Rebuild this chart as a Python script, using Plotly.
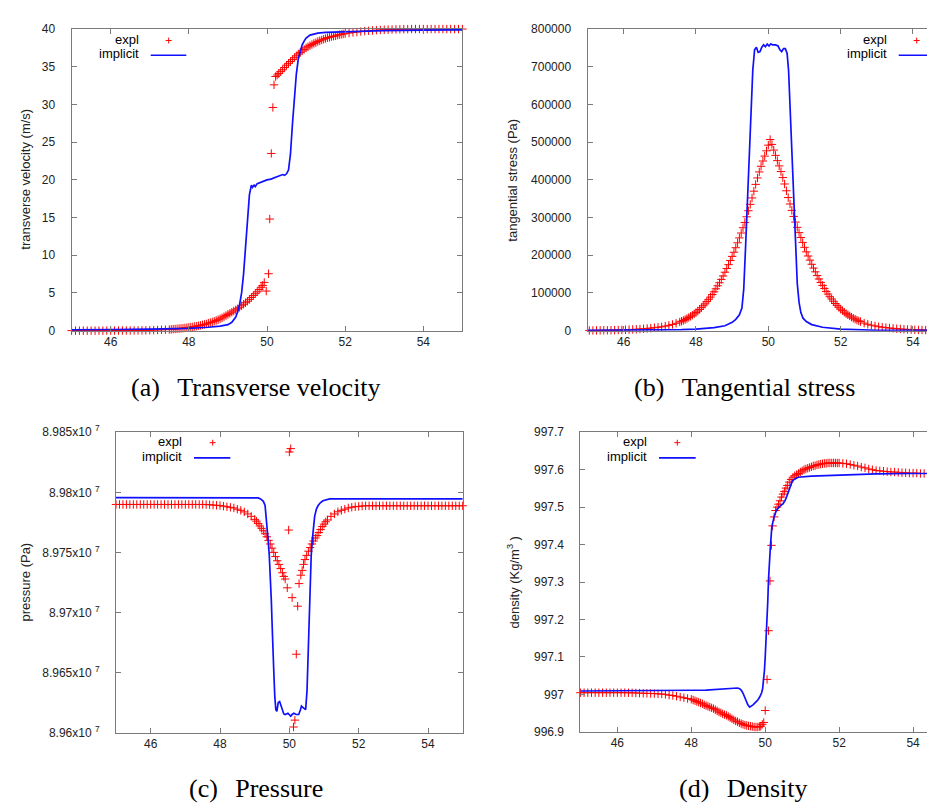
import plotly.graph_objects as go

# ---------------- data ----------------
# (a) transverse velocity (m/s)
x_a_expl = [45.0, 45.1, 45.2, 45.3, 45.4, 45.5, 45.6, 45.7, 45.8, 45.9, 46.0, 46.1, 46.2, 46.3, 46.4, 46.5, 46.6, 46.7, 46.8, 46.9,
            47.0, 47.1, 47.2, 47.3, 47.4,
            47.5, 47.55, 47.6, 47.65, 47.7, 47.75, 47.8, 47.85, 47.9, 47.95, 48.0,
            48.05, 48.1, 48.15, 48.2, 48.25, 48.3, 48.35, 48.4, 48.45, 48.5,
            48.55, 48.6, 48.65, 48.7, 48.75, 48.8, 48.85, 48.9, 48.95, 49.0,
            49.05, 49.1, 49.15, 49.2, 49.25, 49.3, 49.35, 49.4, 49.45, 49.5,
            49.55, 49.6, 49.65, 49.7, 49.75, 49.8, 49.85,
            49.89, 49.93, 49.98, 50.04, 50.07, 50.11, 50.15, 50.18, 50.22,
            50.26, 50.3, 50.35, 50.4, 50.45, 50.5, 50.55, 50.6, 50.65, 50.7, 50.75, 50.8, 50.85, 50.9, 50.95, 51.0,
            51.05, 51.1, 51.15, 51.2, 51.25, 51.3, 51.35, 51.4, 51.45, 51.5, 51.55, 51.6, 51.65, 51.7, 51.75, 51.8, 51.85, 51.9, 51.95, 52.0,
            52.1, 52.2, 52.3, 52.4, 52.5, 52.6, 52.7, 52.8, 52.9, 53.0,
            53.1, 53.2, 53.3, 53.4, 53.5, 53.6, 53.7, 53.8, 53.9, 54.0,
            54.1, 54.2, 54.3, 54.4, 54.5, 54.6, 54.7, 54.8, 54.9, 55.0]
v_a_expl = [0.0, 0.0, 0.0, 0.0, 0.0, 0.0, 0.0, 0.0, 0.0, 0.01, 0.01,
            0.01, 0.01, 0.02, 0.02, 0.02, 0.03, 0.03, 0.04, 0.04,
            0.05, 0.07, 0.09, 0.11, 0.13,
            0.15, 0.17, 0.2, 0.22, 0.25, 0.28, 0.3, 0.33, 0.36, 0.4, 0.43,
            0.47, 0.5, 0.55, 0.6, 0.65, 0.7, 0.77, 0.83, 0.9, 1.0,
            1.07, 1.15, 1.25, 1.35, 1.45, 1.57, 1.7, 1.85, 2.0, 2.15,
            2.3, 2.45, 2.6, 2.75, 2.9, 3.1, 3.3, 3.5, 3.7, 3.9,
            4.15, 4.4, 4.65, 4.9, 5.15, 5.45, 5.75,
            6.0, 6.4, 5.25, 7.55, 14.8, 23.5, 29.6, 32.6, 33.7,
            33.9, 34.1, 34.35, 34.6, 34.9, 35.2, 35.45, 35.7, 35.95, 36.2, 36.45, 36.7, 36.9, 37.1, 37.3, 37.5,
            37.65, 37.8, 37.95, 38.1, 38.2, 38.35, 38.45, 38.55, 38.65, 38.75, 38.85, 38.9, 39.0, 39.05, 39.1, 39.2, 39.25, 39.3, 39.35, 39.4,
            39.47, 39.55, 39.6, 39.67, 39.72, 39.77, 39.81, 39.85, 39.88, 39.9,
            39.92, 39.94, 39.96, 39.97, 39.98, 39.99, 40.0, 40.0, 40.0, 40.0,
            40.0, 40.0, 40.0, 40.0, 40.0, 40.0, 40.0, 40.0, 40.0, 40.0]
x_a_impl = [45.0, 45.5, 46.0, 47.0, 48.0, 48.5, 48.8, 49.0, 49.1, 49.2, 49.25, 49.3, 49.35, 49.4, 49.45, 49.5,
            49.55, 49.6, 49.63, 49.67, 49.7, 49.75, 49.8, 49.85, 49.9, 50.0, 50.1, 50.2, 50.3, 50.4, 50.45,
            50.5, 50.55, 50.6, 50.65, 50.7, 50.75, 50.8, 50.85, 50.9, 50.95, 51.0, 51.1, 51.2, 51.3, 51.5,
            52.0, 53.0, 54.0, 55.0]
v_a_impl = [0.1, 0.15, 0.15, 0.2, 0.3, 0.45, 0.6, 0.8, 1.1, 1.8, 2.5, 3.5, 5.0, 7.5, 11.5, 15.2,
            18.0, 19.3, 19.0, 19.3, 19.1, 19.5, 19.6, 19.8, 19.9, 20.0, 20.1, 20.3, 20.4, 20.7, 20.6,
            20.8, 21.3, 23.4, 27.3, 30.8, 34.0, 36.0, 37.1, 37.9, 38.4, 38.8, 39.2, 39.35, 39.45, 39.55,
            39.65, 39.8, 39.85, 39.9]

# (b) tangential stress (Pa)
x_b_expl = [45.05, 45.15, 45.25, 45.35, 45.45, 45.55, 45.65, 45.75, 45.85, 45.95,
            46.05, 46.15, 46.25, 46.35, 46.45, 46.55, 46.65, 46.75, 46.85, 46.95,
            47.05, 47.15, 47.25, 47.35, 47.45,
            47.55, 47.6, 47.65, 47.7, 47.75, 47.8, 47.85, 47.9, 47.95, 48.0,
            48.05, 48.1, 48.15, 48.2, 48.25, 48.3, 48.35, 48.4, 48.45, 48.5,
            48.55, 48.6, 48.65, 48.7, 48.75, 48.8, 48.85, 48.9, 48.95, 49.0,
            49.05, 49.1, 49.15, 49.2, 49.25, 49.3, 49.35, 49.4, 49.45, 49.5,
            49.55, 49.6, 49.65, 49.7, 49.75, 49.8, 49.85, 49.9, 49.95, 50.0, 50.05,
            50.1, 50.15, 50.2, 50.25, 50.3, 50.35, 50.4, 50.45, 50.5,
            50.55, 50.6, 50.65, 50.7, 50.75, 50.8, 50.85, 50.9, 50.95, 51.0,
            51.05, 51.1, 51.15, 51.2, 51.25, 51.3, 51.35, 51.4, 51.45, 51.5,
            51.55, 51.6, 51.65, 51.7, 51.75, 51.8, 51.85, 51.9, 51.95, 52.0,
            52.05, 52.1, 52.15, 52.2, 52.25, 52.3, 52.35, 52.4, 52.45, 52.5, 52.55,
            52.65, 52.75, 52.85, 52.95, 53.05, 53.15, 53.25, 53.35, 53.45, 53.55,
            53.65, 53.75, 53.85, 53.95, 54.05, 54.15, 54.25, 54.35, 54.45, 54.55,
            54.65, 54.75, 54.85, 54.95]
s_b_expl = [500, 600, 700, 800, 900, 1000, 1200, 1400, 1700, 2000,
            2300, 2700, 3200, 3700, 4300, 5000, 5900, 6800, 7900, 9000,
            10200, 12000, 14000, 16500, 19500,
            23000, 25000, 27000, 29500, 32000, 35000, 38000, 41000, 44500, 48000,
            52000, 56000, 61000, 66000, 71000, 77000, 83000, 89000, 96000, 103000,
            111000, 119000, 127000, 136000, 145000, 155000, 165000, 175000, 186000, 197000,
            208000, 220000, 233000, 246000, 259000, 273000, 287000, 302000, 318000, 335000,
            352000, 370000, 388000, 405000, 421000, 436000, 450000, 463000, 477000, 492000, 507000,
            494000, 479000, 465000, 451000, 437000, 422000, 406000, 389000, 371000,
            353000, 336000, 319000, 303000, 288000, 274000, 260000, 247000, 234000, 221000,
            209000, 198000, 187000, 176000, 166000, 156000, 146000, 137000, 128000, 120000,
            112000, 104000, 97000, 90000, 84000, 78000, 72000, 67000, 62000, 57000,
            53000, 49000, 45000, 42000, 39000, 36000, 33000, 30500, 28000, 26000, 24000,
            20000, 17000, 14500, 12500, 10500, 9200, 8000, 7000, 6000, 5200,
            4400, 3800, 3300, 2800, 2400, 2000, 1700, 1500, 1300, 1100,
            900, 800, 700, 600]
x_b_impl = [45.0, 46.0, 47.0, 47.6, 48.0, 48.5, 48.8, 49.0, 49.1, 49.2, 49.27, 49.32, 49.37, 49.42, 49.47,
            49.52, 49.57, 49.62, 49.67, 49.72, 49.77, 49.82, 49.87, 49.92, 49.97, 50.02, 50.07, 50.12,
            50.2, 50.27, 50.32, 50.37, 50.42, 50.47, 50.52, 50.56, 50.6, 50.64, 50.68, 50.72, 50.76,
            50.8, 50.85, 50.9, 50.96, 51.05, 51.2, 51.5, 52.0, 52.5, 53.0, 54.0, 55.0]
s_b_impl = [500, 800, 1500, 2500, 4000, 8000, 13000, 22000, 30000, 42000, 60000, 110000, 220000, 330000, 460000,
            590000, 690000, 745000, 752000, 738000, 740000, 752000, 758000, 753000, 760000, 755000, 761000, 758000,
            758000, 755000, 745000, 740000, 748000, 748000, 735000, 690000, 600000, 480000, 380000, 290000, 200000,
            125000, 75000, 48000, 33000, 24000, 16000, 9000, 4000, 2000, 1000, 600, 400]

# (c) pressure (Pa)
x_c_expl = [45.0, 45.1, 45.2, 45.3, 45.4, 45.5, 45.6, 45.7, 45.8, 45.9, 46.0, 46.1, 46.2, 46.3, 46.4, 46.5,
            46.6, 46.7, 46.8, 46.9, 47.0, 47.1, 47.2, 47.3, 47.4, 47.5, 47.6,
            47.7, 47.8, 47.9, 48.0, 48.1, 48.2, 48.3, 48.4, 48.5, 48.6, 48.7, 48.8, 48.9, 49.0,
            49.05, 49.1, 49.15, 49.2, 49.25, 49.3, 49.35, 49.4, 49.45, 49.5, 49.55, 49.6, 49.65, 49.7,
            49.75, 49.8, 49.84, 49.88, 49.94, 49.98, 50.0, 50.04, 50.08, 50.12, 50.16, 50.2, 50.24, 50.28,
            50.33, 50.37, 50.41, 50.45, 50.5, 50.55, 50.6, 50.65, 50.7, 50.75, 50.8, 50.85, 50.9, 50.95,
            51.0, 51.05, 51.1, 51.2, 51.3, 51.4, 51.5, 51.6, 51.7, 51.8, 51.9, 52.0, 52.1, 52.2,
            52.3, 52.4, 52.5, 52.6, 52.7, 52.8, 52.9, 53.0, 53.1, 53.2, 53.3, 53.4, 53.5, 53.6,
            53.7, 53.8, 53.9, 54.0, 54.1, 54.2, 54.3, 54.4, 54.5, 54.6, 54.7, 54.8, 54.9, 55.0]
p_c_expl = [89789900, 89789900, 89789900, 89789900, 89789900, 89789900, 89789900, 89789900, 89789900,
            89789900, 89789900, 89789900, 89789900, 89789900, 89789900, 89789900, 89789900, 89789900,
            89789900, 89789900, 89789900, 89789900, 89789900, 89789900, 89789900, 89789900, 89789800,
            89789700, 89789400, 89789200, 89789000, 89788500, 89788000, 89787500, 89787000, 89786000,
            89785000, 89783700, 89782000, 89780000, 89777500,
            89776000, 89774000, 89772000, 89770000, 89768000, 89765500, 89763000, 89760000, 89757000,
            89753500, 89750000, 89746500, 89743000, 89740000,
            89736500, 89733000, 89730000, 89727800, 89720500, 89768600, 89833600, 89836400, 89712300,
            89604600, 89610300, 89665200, 89705200, 89724000,
            89731000, 89735000, 89740000, 89744000, 89747500, 89751000, 89754000, 89757000, 89759500,
            89762000, 89764000, 89766500, 89769000, 89771500,
            89773500, 89775500, 89777000, 89780000, 89782000, 89783800, 89785000, 89786000, 89787000,
            89787600, 89788000, 89788300, 89788600, 89788800,
            89788800, 89788800, 89788800, 89788800, 89788800, 89788800, 89788800, 89788800, 89788800,
            89788800, 89788800, 89788800, 89788800, 89788800,
            89788800, 89788800, 89788800, 89788800, 89788800, 89788800, 89788800, 89788800, 89788800,
            89788800, 89788800, 89788800, 89788800, 89788800]
x_c_impl = [45.0, 47.0, 48.5, 49.0, 49.1, 49.17, 49.25, 49.3, 49.34, 49.38, 49.42, 49.45, 49.48, 49.5,
            49.53, 49.55, 49.58, 49.61, 49.64, 49.68, 49.72, 49.76, 49.8, 49.84, 49.88, 49.92, 49.96,
            50.0, 50.04, 50.08, 50.13, 50.2, 50.27, 50.32, 50.35, 50.39, 50.43, 50.47, 50.51, 50.54,
            50.57, 50.59, 50.61, 50.63, 50.66, 50.68, 50.73, 50.78, 50.83, 50.9, 50.97, 51.16, 52.0, 55.0]
p_c_impl = [89795600, 89795600, 89795500, 89795500, 89795400, 89794500, 89792500, 89789000, 89778000,
            89763000, 89748000, 89733000, 89710000, 89692500, 89675000, 89651600, 89630000, 89619000,
            89617600, 89625000, 89625800, 89622000, 89619000, 89615500, 89614900, 89615500, 89616000,
            89614800, 89613600, 89615000, 89616000, 89615000, 89615000, 89619000, 89622000, 89621000,
            89619500, 89619000, 89635000, 89665000, 89688000, 89706000, 89727000, 89747000, 89760000,
            89766000, 89780000, 89786000, 89789000, 89791500, 89793000, 89794500, 89794500, 89794500]

# (d) density (Kg/m^3)
x_d_expl = [45.0, 45.1, 45.2, 45.3, 45.4, 45.5, 45.6, 45.7, 45.8, 45.9, 46.0, 46.1, 46.2, 46.3, 46.4, 46.5, 46.6,
            46.7, 46.8, 46.9, 47.0, 47.1, 47.2, 47.3, 47.4, 47.5, 47.6, 47.7, 47.8, 47.9,
            48.0, 48.05, 48.1, 48.15, 48.2, 48.25, 48.3, 48.35, 48.4, 48.45, 48.5, 48.55, 48.6, 48.65,
            48.7, 48.75, 48.8, 48.85, 48.9, 48.95, 49.0, 49.05, 49.1, 49.15, 49.2, 49.25, 49.3, 49.35,
            49.4, 49.45, 49.5, 49.55, 49.6, 49.65, 49.7, 49.75, 49.8, 49.85,
            49.88, 49.92, 49.96, 50.0, 50.05, 50.09, 50.13, 50.17, 50.2, 50.24, 50.28, 50.32, 50.36,
            50.4, 50.44, 50.48, 50.52, 50.56, 50.6, 50.65, 50.7, 50.75, 50.8, 50.85, 50.9, 50.95,
            51.0, 51.05, 51.1, 51.15, 51.2, 51.25, 51.3, 51.35, 51.4, 51.45, 51.5, 51.55, 51.6, 51.65,
            51.7, 51.75, 51.8, 51.85, 51.9, 51.95, 52.0,
            52.1, 52.2, 52.3, 52.4, 52.5, 52.6, 52.7, 52.8, 52.9, 53.0,
            53.1, 53.2, 53.3, 53.4, 53.5, 53.6, 53.7, 53.8, 53.9, 54.0,
            54.1, 54.2, 54.3, 54.4, 54.5, 54.6, 54.7, 54.8, 54.9, 55.0]
r_d_expl = [997.0045, 997.0045, 997.0045, 997.0045, 997.0045, 997.0045, 997.0045, 997.0045, 997.0045,
            997.0045, 997.0045, 997.0045, 997.0045, 997.0043, 997.0041, 997.0038, 997.0034,
            997.003, 997.0027, 997.0024, 997.002, 997.0015, 997.001, 997.0, 996.998, 996.997, 996.995,
            996.993, 996.991, 996.989,
            996.987, 996.985, 996.983, 996.981, 996.979, 996.977, 996.975, 996.972, 996.97, 996.968,
            996.966, 996.964, 996.962, 996.959,
            996.956, 996.953, 996.951, 996.948, 996.946, 996.944, 996.941, 996.938, 996.935, 996.932,
            996.929, 996.927, 996.924, 996.922,
            996.92, 996.918, 996.917, 996.916, 996.915, 996.914, 996.913, 996.913, 996.913, 996.914,
            996.915, 996.92, 996.925, 996.957, 997.04, 997.17, 997.303, 997.398, 997.45, 997.474,
            997.491, 997.5, 997.508,
            997.517, 997.527, 997.535, 997.542, 997.551, 997.558, 997.567, 997.574, 997.58, 997.584,
            997.587, 997.59, 997.594,
            997.597, 997.6, 997.602, 997.604, 997.606, 997.608, 997.61, 997.611, 997.613, 997.614,
            997.615, 997.616, 997.617, 997.617,
            997.618, 997.618, 997.618, 997.618, 997.618, 997.618, 997.618,
            997.617, 997.616, 997.614, 997.612, 997.61, 997.607, 997.605, 997.602, 997.6, 997.598,
            997.597, 997.596, 997.595, 997.594, 997.594, 997.593, 997.592, 997.592, 997.591, 997.591,
            997.591, 997.59, 997.59, 997.59, 997.59, 997.59, 997.59, 997.59, 997.59, 997.59]
x_d_impl = [45.0, 46.0, 47.0, 48.0, 48.4, 49.0, 49.17, 49.25, 49.31, 49.36, 49.4, 49.45, 49.49, 49.53,
            49.58, 49.63, 49.67, 49.73, 49.8, 49.85, 49.9, 49.93, 49.96, 49.98, 50.0, 50.03, 50.05,
            50.07, 50.09, 50.11, 50.14, 50.18, 50.21, 50.24, 50.3, 50.39, 50.48, 50.54, 50.58, 50.62,
            50.66, 50.69, 50.73, 50.78, 50.89, 51.25, 52.15, 53.0, 53.95, 55.0]
r_d_impl = [997.009, 997.009, 997.010, 997.011, 997.0115, 997.014, 997.016, 997.017, 997.015, 997.01,
            997.003, 996.99, 996.981, 996.972, 996.966, 996.969, 996.972, 996.978, 996.985, 996.993,
            997.0035, 997.015, 997.038, 997.065, 997.099, 997.15, 997.195, 997.25, 997.308, 997.355,
            997.395, 997.448, 997.465, 997.474, 997.491, 997.502, 997.509, 997.518, 997.528, 997.539,
            997.552, 997.561, 997.569, 997.574, 997.58, 997.583, 997.587, 997.589, 997.590, 997.590]

x_tick_vals = [46, 48, 50, 52, 54]
a_ticks = [0, 5, 10, 15, 20, 25, 30, 35, 40]
b_ticks = [0, 100000, 200000, 300000, 400000, 500000, 600000, 700000, 800000]
c_ticks = [89600000, 89650000, 89700000, 89750000, 89800000, 89850000]
c_tick_text = ["8.96x10 <sup>7</sup>", "8.965x10 <sup>7</sup>", "8.97x10 <sup>7</sup>",
               "8.975x10 <sup>7</sup>", "8.98x10 <sup>7</sup>", "8.985x10 <sup>7</sup>"]
d_ticks = [996.9, 997.0, 997.1, 997.2, 997.3, 997.4, 997.5, 997.6, 997.7]
d_tick_text = ["996.9", "997", "997.1", "997.2", "997.3", "997.4", "997.5", "997.6", "997.7"]

for xs, ys in [(x_a_expl, v_a_expl), (x_a_impl, v_a_impl), (x_b_expl, s_b_expl), (x_b_impl, s_b_impl),
               (x_c_expl, p_c_expl), (x_c_impl, p_c_impl), (x_d_expl, r_d_expl), (x_d_impl, r_d_impl)]:
    assert len(xs) == len(ys), (len(xs), len(ys))

# ---------------- figure ----------------
W, H = 935, 806
SANS = "Liberation Sans, Arial, sans-serif"
SERIF = "Liberation Serif, Times New Roman, serif"
FRAME = "#7a7a7a"
TXT = "#222222"
RED = "#ff0000"
BLUE = "#1010ff"


def fx(p):
    return p / W


def fy(p):
    return 1 - p / H


fig = go.Figure()

series = [
    ("x", "y", x_a_expl, v_a_expl, x_a_impl, v_a_impl),
    ("x2", "y2", x_b_expl, s_b_expl, x_b_impl, s_b_impl),
    ("x3", "y3", x_c_expl, p_c_expl, x_c_impl, p_c_impl),
    ("x4", "y4", x_d_expl, r_d_expl, x_d_impl, r_d_impl),
]
for xa, ya, xe, ye, xi, yi in series:
    fig.add_trace(go.Scatter(x=xe, y=ye, xaxis=xa, yaxis=ya, mode="markers", name="expl",
                             cliponaxis=False, showlegend=False,
                             marker=dict(symbol="cross-thin", size=6, color=RED,
                                         line=dict(width=1, color=RED))))
    fig.add_trace(go.Scatter(x=xi, y=yi, xaxis=xa, yaxis=ya, mode="lines", name="implicit",
                             showlegend=False, line=dict(color=BLUE, width=1.7)))


def xaxis(dom, rng, anchor):
    return dict(domain=dom, range=rng, anchor=anchor, showline=True, linecolor=FRAME, linewidth=1,
                mirror="ticks", ticks="inside", ticklen=5, tickcolor=FRAME, tickvals=x_tick_vals,
                tickfont=dict(family=SANS, size=12, color=TXT), ticklabelstandoff=0,
                showgrid=False, zeroline=False)


def yaxis(dom, rng, anchor, vals, text=None, mirror="ticks"):
    d = dict(domain=dom, range=rng, anchor=anchor, showline=True, linecolor=FRAME, linewidth=1,
             mirror=mirror, ticks="inside", ticklen=5, tickcolor=FRAME, tickvals=vals,
             tickfont=dict(family=SANS, size=12, color=TXT), ticklabelstandoff=13,
             showgrid=False, zeroline=False)
    if text is not None:
        d["ticktext"] = text
    else:
        d["tickformat"] = "d"
    return d


fig.update_layout(
    width=W, height=H, margin=dict(l=0, r=0, t=0, b=0),
    paper_bgcolor="white", plot_bgcolor="white", showlegend=False,
    xaxis=xaxis([fx(63.6), fx(454.4)], [45, 55], "y"),
    yaxis=yaxis([fy(320), fy(12.3)], [0, 40], "x", a_ticks),
    xaxis2=xaxis([fx(579.5), 1.0], [45, 54.83], "y2"),
    yaxis2=yaxis([fy(320), fy(12.3)], [0, 800000], "x2", b_ticks, mirror=False),
    xaxis3=xaxis([fx(108), fx(454.7)], [45, 55], "y3"),
    yaxis3=yaxis([fy(730), fy(423.7)], [89600000, 89850000], "x3", c_ticks, c_tick_text),
    xaxis4=xaxis([fx(572.4), 1.0], [45, 54.81], "y4"),
    yaxis4=yaxis([fy(729.3), fy(423.7)], [996.9, 997.7], "x4", d_ticks, d_tick_text, mirror=False),
)

ann = []
# y-axis titles
for text, cx, cy in [("transverse velocity (m/s)", 18, 166),
                     ("tangential stress (Pa)", 505, 167),
                     ("pressure (Pa)", 18, 577),
                     ("density (Kg/m<sup>3</sup> )", 505, 577)]:
    ann.append(dict(text=text, x=fx(cx), y=fy(cy), xref="paper", yref="paper", textangle=-90,
                    showarrow=False, xanchor="center", yanchor="middle",
                    font=dict(family=SANS, size=13, color=TXT)))

# captions
GAP = "\u00a0\u00a0\u2006"
for text, cx, cy in [("(a)" + GAP + "Transverse velocity", 248, 378),
                     ("(b)" + GAP + "Tangential stress", 736, 378),
                     ("(c)" + GAP + "Pressure", 248, 787),
                     ("(d)" + GAP + "Density", 735.5, 787)]:
    ann.append(dict(text=text, x=fx(cx), y=fy(cy), xref="paper", yref="paper", showarrow=False,
                    xanchor="center", yanchor="middle", font=dict(family=SERIF, size=26, color="black")))

# keys (gnuplot style: label right-aligned, sample on the right)
shapes = []
for tx, y1, y2, px, lx0, lx1 in [(133, 23, 37.5, 160.7, 142.7, 178.3),
                                  (881, 23, 37.5, 908.7, 890.7, 926.7),
                                  (176, 433.3, 448.3, 204.7, 186, 222.3),
                                  (641, 433.3, 448.3, 669.3, 651, 687.7)]:
    ann.append(dict(text="expl", x=fx(tx), y=fy(y1), xref="paper", yref="paper", showarrow=False,
                    xanchor="right", yanchor="middle", font=dict(family=SANS, size=13, color="black")))
    ann.append(dict(text="implicit", x=fx(tx), y=fy(y2), xref="paper", yref="paper", showarrow=False,
                    xanchor="right", yanchor="middle", font=dict(family=SANS, size=13, color="black")))
    cy = y1 + 1
    shapes.append(dict(type="line", xref="paper", yref="paper", x0=fx(px - 3), x1=fx(px + 3),
                       y0=fy(cy), y1=fy(cy), line=dict(color=RED, width=1)))
    shapes.append(dict(type="line", xref="paper", yref="paper", x0=fx(px), x1=fx(px),
                       y0=fy(cy - 3), y1=fy(cy + 3), line=dict(color=RED, width=1)))
    shapes.append(dict(type="line", xref="paper", yref="paper", x0=fx(lx0), x1=fx(lx1),
                       y0=fy(y2 + 1.5), y1=fy(y2 + 1.5), line=dict(color=BLUE, width=1.7)))

fig.update_layout(annotations=ann, shapes=shapes)
fig.write_html("out.html")
